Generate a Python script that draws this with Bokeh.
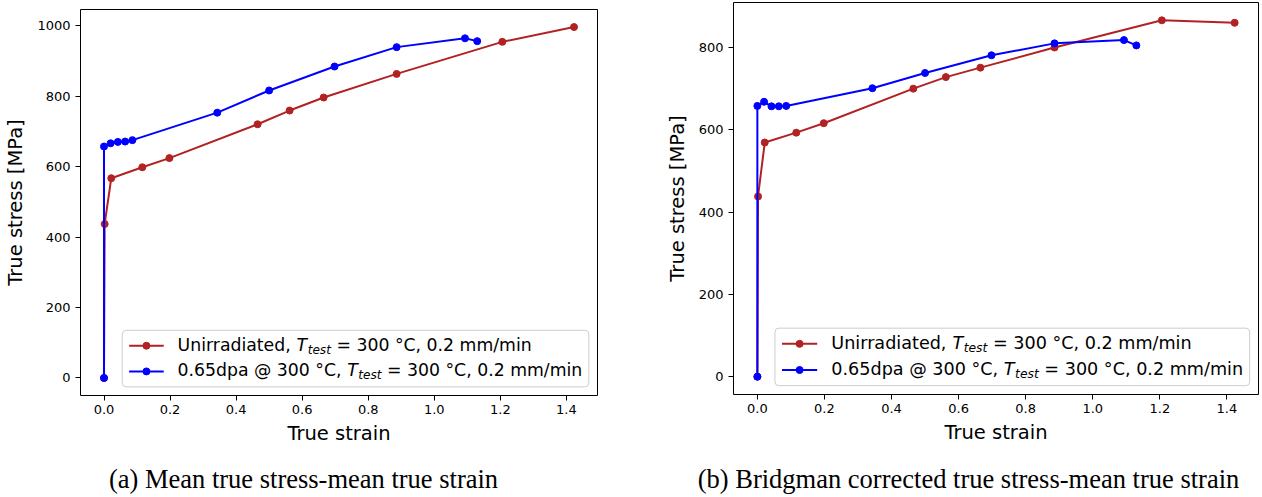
from bokeh.plotting import figure
from bokeh.layouts import row, column
from bokeh.models import Range1d, FixedTicker, PrintfTickFormatter, Quad
from bokeh.core.properties import value
from bokeh.embed import file_html
from bokeh.resources import INLINE

# ---------------- data ----------------
strain_unirr = [0.0, 0.002, 0.022, 0.116, 0.198, 0.465, 0.562, 0.665, 0.886, 1.206, 1.423]
strain_irr = [0.0, 0.0, 0.020, 0.042, 0.064, 0.086, 0.343, 0.500, 0.698, 0.886, 1.093, 1.130]

stress_unirr_mean = [0, 437, 567, 598, 624, 720, 759, 796, 863, 954, 996]
stress_irr_mean = [0, 657, 666, 670, 671, 675, 753, 816, 884, 939, 964, 956]

stress_unirr_bridgman = [0, 438, 569, 593, 616, 700, 728, 751, 800, 866, 860]
stress_irr_bridgman = [0, 658, 668, 657, 657, 658, 701, 738, 781, 810, 818, 805]

x_ticks = [0.0, 0.2, 0.4, 0.6, 0.8, 1.0, 1.2, 1.4]
y_ticks_a = [0, 200, 400, 600, 800, 1000]
y_ticks_b = [0, 200, 400, 600, 800]

legend_unirr = ("Unirradiated,", "= 300 °C, 0.2 mm/min")
legend_irr = ("0.65dpa @ 300 °C,", "= 300 °C, 0.2 mm/min")
legend_T = ("T", "test")

captions = ["(a) Mean true stress-mean true strain",
            "(b) Bridgman corrected true stress-mean true strain"]

RED = "#b22222"
BLUE = "#0000ff"
FONT = "DejaVu Sans"

# DejaVu Sans advance widths (units per em = 2048), used to lay out legend text
ADV = {" ": 651, ",": 651, ".": 651, "=": 1716, "°": 1024, "/": 690, "@": 2048,
       "C": 1430, "U": 1499, "T": 1251, "a": 1255, "d": 1300, "e": 1260, "i": 569,
       "m": 1995, "n": 1298, "p": 1300, "r": 842, "s": 1067, "t": 803}
for _d in "0123456789":
    ADV[_d] = 1303


def tw(s, size):
    return sum(ADV.get(c, 1200) for c in s) / 2048.0 * size


def padded_range(vals, frac=0.05):
    lo, hi = min(vals), max(vals)
    span = hi - lo
    return Range1d(lo - frac * span, hi + frac * span)


def make_panel(ys_red, ys_blue, yticks, width, height, bl, br, bt, bb, fs):
    xr = padded_range(strain_unirr + strain_irr)
    yr = padded_range(ys_red + ys_blue)
    p = figure(width=width, height=height, x_range=xr, y_range=yr,
               output_backend="svg", toolbar_location=None,
               min_border_left=bl, min_border_right=br,
               min_border_top=bt, min_border_bottom=bb)
    p.title.visible = False
    p.background_fill_color = "white"
    p.border_fill_color = "white"
    p.outline_line_color = "black"
    p.outline_line_width = 1
    p.outline_line_alpha = 1
    p.xgrid.visible = False
    p.ygrid.visible = False

    for ax in (p.xaxis[0], p.yaxis[0]):
        ax.axis_line_color = None
        ax.major_tick_in = 0
        ax.major_tick_out = 5
        ax.minor_tick_in = 0
        ax.minor_tick_out = 0
        ax.major_tick_line_color = "black"
        ax.major_label_text_font = FONT
        ax.major_label_text_font_size = "13px"
        ax.major_label_text_color = "black"
        ax.axis_label_text_font = FONT
        ax.axis_label_text_font_size = "19.5px"
        ax.axis_label_text_font_style = "normal"
        ax.axis_label_text_color = "black"
    p.xaxis.ticker = FixedTicker(ticks=x_ticks)
    p.xaxis.formatter = PrintfTickFormatter(format="%.1f")
    p.yaxis.ticker = FixedTicker(ticks=yticks)
    p.xaxis.axis_label = "True strain"
    p.yaxis.axis_label = "True stress [MPa]"
    p.xaxis.major_label_standoff = 4
    p.yaxis.major_label_standoff = 5
    p.xaxis.axis_label_standoff = 5
    p.yaxis.axis_label_standoff = 7

    p.line(strain_unirr, ys_red, line_color=RED, line_width=2)
    p.scatter(strain_unirr, ys_red, size=7, color=RED)
    p.line(strain_irr, ys_blue, line_color=BLUE, line_width=2)
    p.scatter(strain_irr, ys_blue, size=7, color=BLUE)

    # ---------- legend (matplotlib style, built by hand for the T_test subscript) ----------
    sub = 0.7 * fs
    pad, handle, htp, lsp, axpad = 0.4 * fs, 2.0 * fs, 0.8 * fs, 0.5 * fs, 0.5 * fs
    rowh = 0.985 * fs
    frame_w = width - bl - br
    frame_h = height - bt - bb
    sx = frame_w / (xr.end - xr.start)
    sy = frame_h / (yr.end - yr.start)

    entries = [(legend_unirr, RED), (legend_irr, BLUE)]
    widths = []
    for (pre, post), _c in entries:
        w = tw(pre + " ", fs) + tw(legend_T[0], fs) + tw(legend_T[1], sub) + tw(" " + post, fs)
        widths.append(w)
    box_w = pad + handle + htp + max(widths) + pad
    box_h = 2 * pad + 2 * rowh + lsp

    right_x = xr.end - axpad / sx
    left_x = right_x - box_w / sx
    bot_y = yr.start + axpad / sy
    top_y = bot_y + box_h / sy
    qkw = dict(fill_color="white", fill_alpha=0.8, line_color="#cccccc", line_width=1)
    if "border_radius" in Quad.properties():
        qkw["border_radius"] = 4
    p.quad(left=[left_x], right=[right_x], bottom=[bot_y], top=[top_y], **qkw)

    text_x = left_x + (pad + handle + htp) / sx
    for i, ((pre, post), col) in enumerate(entries):
        cy = top_y - (pad + rowh / 2 + i * (rowh + lsp)) / sy
        x_a = left_x + pad / sx
        x_b = left_x + (pad + handle) / sx
        p.line([x_a, x_b], [cy, cy], line_color=col, line_width=2)
        p.scatter([(x_a + x_b) / 2], [cy], size=7, color=col)

        off_T = tw(pre + " ", fs)
        off_sub = off_T + tw(legend_T[0], fs) + 0.5
        off_post = off_sub + tw(legend_T[1], sub) + tw(" ", fs)
        common = dict(text_font=value(FONT), text_color="black",
                      text_baseline="middle", text_align="left")
        p.text(x=[text_x], y=[cy], text=[pre], x_offset=0, y_offset=-1,
               text_font_size=f"{fs}px", **common)
        p.text(x=[text_x], y=[cy], text=[legend_T[0]], x_offset=off_T, y_offset=-1,
               text_font_size=f"{fs}px", text_font_style="italic", **common)
        p.text(x=[text_x], y=[cy], text=[legend_T[1]], x_offset=off_sub, y_offset=3.8,
               text_font_size=f"{sub:.1f}px", text_font_style="italic", **common)
        p.text(x=[text_x], y=[cy], text=[post], x_offset=off_post, y_offset=-1,
               text_font_size=f"{fs}px", **common)
    return p


p_a = make_panel(stress_unirr_mean, stress_irr_mean, y_ticks_a,
                 width=640, height=450, bl=80, br=43, bt=9, bb=55, fs=17.3)
p_b = make_panel(stress_unirr_bridgman, stress_irr_bridgman, y_ticks_b,
                 width=622, height=450, bl=93, br=4, bt=2, bb=56, fs=17.6)

cap = figure(width=1262, height=47, x_range=Range1d(0, 1262), y_range=Range1d(47, 0),
             output_backend="svg", toolbar_location=None, min_border=0,
             x_axis_location=None, y_axis_location=None)
cap.title.visible = False
cap.outline_line_color = None
cap.xgrid.visible = False
cap.ygrid.visible = False
cap.text(x=[303, 968], y=[28, 28], text=captions,
         text_font=value("Liberation Serif"), text_font_size="26.5px",
         text_align="center", text_baseline="middle", text_color="black")

# each panel wrapped in its own column so that the row does not align their frames
layout = column(row(column(p_a), column(p_b)), cap)
open("out.html", "w").write(file_html(layout, INLINE))
